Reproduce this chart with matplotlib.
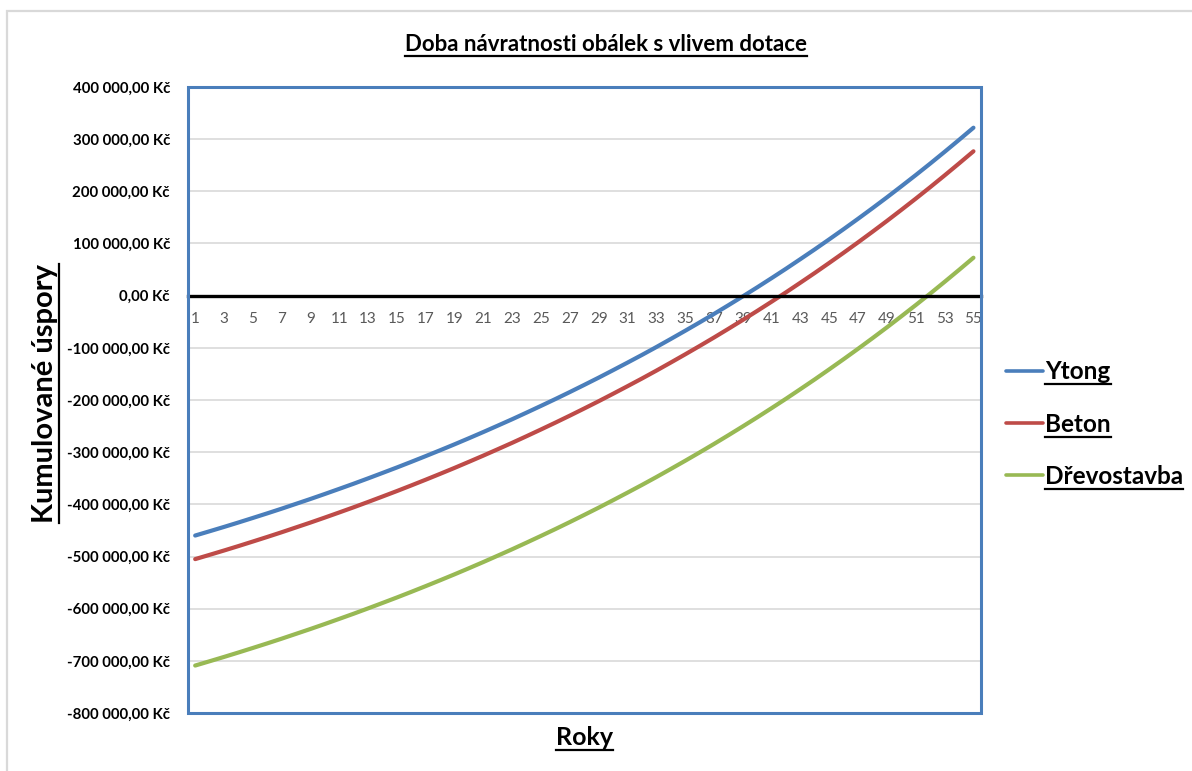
import matplotlib
matplotlib.use("Agg")
import matplotlib.pyplot as plt
from matplotlib.lines import Line2D
from matplotlib.patches import Rectangle
from matplotlib.ticker import FuncFormatter, MultipleLocator

plt.rcParams['font.family'] = ['Lato', 'DejaVu Sans']

# roky 1..55 a kumulované úspory v tisících Kč
roky = list(range(1, 56))
ytong = [-459.8, -451.6, -443.3, -434.8, -426.1, -417.3, -408.3, -399.0, -389.7, -380.1,
         -370.3, -360.4, -350.2, -339.8, -329.3, -318.5, -307.5, -296.3, -284.9, -273.2,
         -261.3, -249.1, -236.8, -224.1, -211.2, -198.1, -184.7, -171.0, -157.1, -142.8,
         -128.3, -113.6, -98.5, -83.0, -67.3, -51.3, -35.0, -18.3, -1.3, 16.0,
         33.7, 51.7, 70.2, 88.9, 108.1, 127.6, 147.5, 167.8, 188.5, 209.7,
         231.2, 253.2, 275.7, 298.6, 321.9]
beton = [-505.0, -496.8, -488.5, -480.0, -471.3, -462.5, -453.5, -444.2, -434.9, -425.3,
         -415.5, -405.6, -395.4, -385.0, -374.5, -363.7, -352.7, -341.5, -330.1, -318.4,
         -306.5, -294.3, -282.0, -269.3, -256.4, -243.3, -229.9, -216.2, -202.3, -188.0,
         -173.5, -158.8, -143.7, -128.2, -112.5, -96.5, -80.2, -63.5, -46.5, -29.2,
         -11.5, 6.5, 25.0, 43.7, 62.9, 82.4, 102.3, 122.6, 143.3, 164.5,
         186.0, 208.0, 230.5, 253.4, 276.7]
drevostavba = [-709.0, -700.8, -692.5, -684.0, -675.3, -666.5, -657.5, -648.2, -638.9, -629.3,
               -619.5, -609.6, -599.4, -589.0, -578.5, -567.7, -556.7, -545.5, -534.1, -522.4,
               -510.5, -498.3, -486.0, -473.3, -460.4, -447.3, -433.9, -420.2, -406.3, -392.0,
               -377.5, -362.8, -347.7, -332.2, -316.5, -300.5, -284.2, -267.5, -250.5, -233.2,
               -215.5, -197.5, -179.0, -160.3, -141.1, -121.6, -101.7, -81.4, -60.7, -39.5,
               -18.0, 4.0, 26.5, 49.4, 72.7]
serie = [('Ytong', ytong, '#4A7EBB'),
         ('Beton', beton, '#BE4B48'),
         ('Dřevostavba', drevostavba, '#98B954')]

fig = plt.figure(figsize=(11.92, 7.71), dpi=100)
# světle šedý okraj celého obrázku
fig.add_artist(Rectangle((7 / 1192, -0.1), 1.2, 1.1 - 11 / 771, transform=fig.transFigure,
                         fill=False, edgecolor='#D9D9D9', lw=1.6))
ax = fig.add_axes([0.1577, 0.0752, 0.665, 0.812])

for nazev, hodnoty, barva in serie:
    ax.plot(roky, [v * 1000 for v in hodnoty], color=barva, lw=3.0,
            solid_capstyle='round', label=nazev, zorder=3)

ax.set_xlim(0.5, 55.5)
ax.set_ylim(-800000, 400000)
ax.yaxis.set_major_locator(MultipleLocator(100000))
ax.yaxis.set_major_formatter(FuncFormatter(
    lambda v, p: f"{v:,.2f}".replace(",", " ").replace(".", ",") + " Kč"))
ax.grid(axis='y', color='#D9D9D9', lw=1.2, zorder=0)
ax.set_xticks(roky[::2])
ax.tick_params(axis='x', length=0, pad=12, labelsize=11, labelcolor='#595959')
ax.tick_params(axis='y', length=0, pad=13, labelsize=10.8)
for lab in ax.get_yticklabels():
    lab.set_fontweight('bold')

# osa x leží na nule, rámeček grafu je modrý
for s in ['left', 'right', 'top']:
    ax.spines[s].set_visible(False)
ax.spines['bottom'].set_position(('data', 0))
ax.spines['bottom'].set_color('black')
ax.spines['bottom'].set_linewidth(2.4)
ax.spines['bottom'].set_zorder(4)
ax.add_patch(Rectangle((0, 0), 1, 1, transform=ax.transAxes, fill=False,
                       edgecolor='#4A7EBB', lw=2.2, clip_on=False, zorder=5))

titulek = fig.text(0.508, 0.942, 'Doba návratnosti obálek s vlivem dotace',
                   ha='center', va='center', fontsize=16, fontweight='bold')
popis_y = fig.text(0.038, 0.489, 'Kumulované úspory', rotation=90,
                   ha='center', va='center', fontsize=21, fontweight='bold')
popis_x = fig.text(0.490, 0.043, 'Roky', ha='center', va='center',
                   fontsize=18, fontweight='bold')

leg = ax.legend(loc='center left', bbox_to_anchor=(0.826, 0.45),
                bbox_transform=fig.transFigure, frameon=False,
                handlelength=1.5, handletextpad=0.1, labelspacing=1.2,
                prop={'size': 17.5, 'weight': 'bold'})
for h in leg.get_lines():
    h.set_linewidth(2.6)


def podtrhni(txt, lw=1.6, mezera=1):
    fig.canvas.draw()
    bb = txt.get_window_extent()
    inv = fig.transFigure.inverted()
    if txt.get_rotation() == 90:
        body = inv.transform([(bb.x1 + mezera, bb.y0), (bb.x1 + mezera, bb.y1)])
    else:
        body = inv.transform([(bb.x0, bb.y0 - mezera), (bb.x1, bb.y0 - mezera)])
    fig.add_artist(Line2D(body[:, 0], body[:, 1], color='black', lw=lw,
                          transform=fig.transFigure))


for t in [titulek, popis_y, popis_x] + leg.get_texts():
    podtrhni(t)

fig.savefig('out.png', dpi=100)
